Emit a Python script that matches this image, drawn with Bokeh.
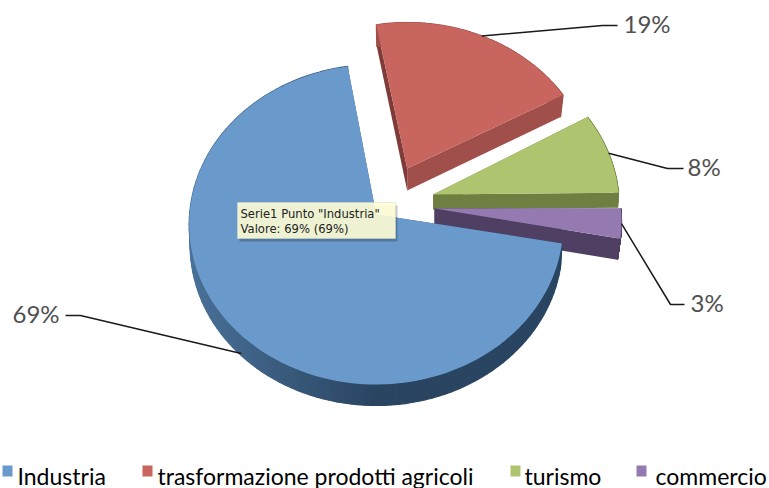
import numpy as np
from bokeh.plotting import figure
from bokeh.models import Range1d
from bokeh.core.properties import value
from bokeh.embed import file_html
from bokeh.resources import INLINE

categories = ["Industria", "trasformazione prodotti agricoli", "turismo", "commercio"]
values = [69, 19, 8, 3]
pct_labels = ["69%", "19%", "8%", "3%"]
top_colors = ["#6a9acc", "#c9655f", "#aec46f", "#957ab1"]
start_edge_colors = ["#3d6288", "#7e3b38", "#6f7f41", "#4f3f63"]
end_edge_colors = ["#3d6288", "#a04f4b", "#6f7f41", "#4f3f63"]
rim_colors = [("#2a4562", "#4a7199"), ("#a04f4b", "#a04f4b"), ("#6f7f41", "#6f7f41"), ("#4f3f63", "#4f3f63")]

# layout of the exploded perspective pie (page pixels)
start_deg = [96.8, -9.5, 56.0, 85.3]
span_fix = [1.014, 0.955, 1.0, 1.0]
apex = [(375.7, 214), (406.7, 168), (432.7, 194), (434, 208)]
centre_y = [224, 184, 206, 221]
rx = [187, 187, 186, 187]
ry = [160, 162, 160, 160]
depth = [21, 22, 15, 21]
shrink = [1, 3, 1, 3]
anchor_shift = [(-5, 14), (0, 0), (0, 0), (0, 0)]
elbows = [(80, 315), (602, 25), (667, 168), (670, 304)]
stub_ends = [(65, 315), (617, 25), (683, 168), (684, 304)]
label_pos = [(12, 313), (623, 23), (687, 166), (690, 302)]
legend_swatch_x = [2, 142, 510, 636]
legend_text_x = [17, 157, 524, 655]
draw_order = [1, 2, 3, 0]

W, H = 769, 488
p = figure(width=W, height=H, output_backend="svg", toolbar_location=None,
           x_range=Range1d(0, W), y_range=Range1d(H, 0), min_border=0,
           outline_line_color=None, margin=(0, 0, 0, 0))
p.axis.visible = False
p.grid.visible = False
p.background_fill_color = "white"
p.border_fill_color = "white"


def lerp_color(c0, c1, f):
    a = [int(c0[i:i + 2], 16) for i in (1, 3, 5)]
    b = [int(c1[i:i + 2], 16) for i in (1, 3, 5)]
    return "#%02x%02x%02x" % tuple(int(round(x + (y - x) * f)) for x, y in zip(a, b))


total = sum(values)
for i in draw_order:
    ang0 = start_deg[i]
    ang1 = ang0 + values[i] / total * 360 * span_fix[i]
    ts = np.radians(np.linspace(ang0, ang1, 121))
    ax, ay = apex[i]
    rim_x = ax + rx[i] * np.sin(ts)
    rim_y = centre_y[i] - ry[i] * np.cos(ts)
    bot_x = ax + (rx[i] - shrink[i]) * np.sin(ts)
    bot_y = rim_y + depth[i]
    bax, bay = ax, ay + depth[i]
    p.patch([ax, rim_x[0], bot_x[0], bax], [ay, rim_y[0], bot_y[0], bay],
            fill_color=start_edge_colors[i], line_color=None)
    c0, c1 = rim_colors[i]
    xs, ys, cs = [], [], []
    for k in range(len(ts) - 1):
        xs.append([rim_x[k], rim_x[k + 1], bot_x[k + 1], bot_x[k]])
        ys.append([rim_y[k], rim_y[k + 1], bot_y[k + 1], bot_y[k]])
        f = max(0.0, (ax - rim_x[k]) / rx[i])
        cs.append(lerp_color(c0, c1, f))
    p.patches(xs, ys, fill_color=cs, line_color=cs, line_width=1.2)
    p.patch([ax, rim_x[-1], bot_x[-1], bax], [ay, rim_y[-1], bot_y[-1], bay],
            fill_color=end_edge_colors[i], line_color=None)
    p.patch([ax, *rim_x], [ay, *rim_y], fill_color=top_colors[i], line_color=None)

# leader lines and percentage labels
for i in range(4):
    ang0 = start_deg[i]
    ang1 = ang0 + values[i] / total * 360 * span_fix[i]
    mid = np.radians((ang0 + ang1) / 2)
    ax, _ = apex[i]
    x0 = ax + rx[i] * np.sin(mid) + anchor_shift[i][0]
    y0 = centre_y[i] - ry[i] * np.cos(mid) + anchor_shift[i][1]
    p.line([x0, elbows[i][0], stub_ends[i][0]], [y0, elbows[i][1], stub_ends[i][1]],
           line_color="#1a1a1a", line_width=1.5)
    p.text([label_pos[i][0]], [label_pos[i][1]], text=[pct_labels[i]], text_font=value("Lato"),
           text_font_size="24px", text_color="#505050", text_align="left", text_baseline="middle")

# tooltip
p.quad(left=[239], right=[397], top=[205], bottom=[241], fill_color="#000000", fill_alpha=0.22, line_color=None)
p.quad(left=[237], right=[395], top=[202], bottom=[238], fill_color="#ffffd8", fill_alpha=0.9,
       line_color="#d8d8c0", line_width=0.5)
p.text([240, 240], [213, 228], text=['Serie1 Punto "Industria"', "Valore: 69% (69%)"],
       text_font=value("DejaVu Sans"), text_font_size="11.6px", text_color="#222222",
       text_align="left", text_baseline="middle")

# legend
for i in range(4):
    p.quad(left=[legend_swatch_x[i]], right=[legend_swatch_x[i] + 10], top=[465], bottom=[476],
           fill_color=top_colors[i], line_color=None)
    p.text([legend_text_x[i]], [475], text=[categories[i]], text_font=value("Lato"),
           text_font_size="23px", text_color="#000000", text_align="left", text_baseline="middle")

open("out.html", "w").write(file_html(p, INLINE))
